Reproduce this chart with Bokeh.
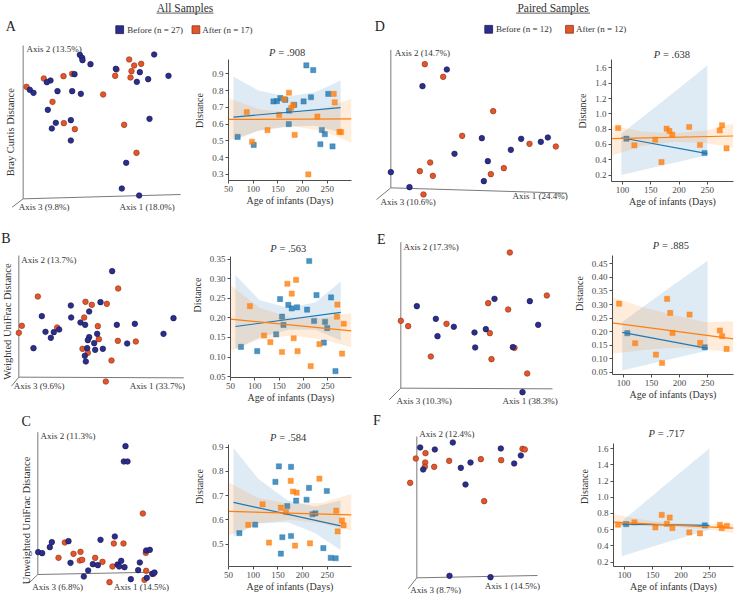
import math
from bokeh.plotting import figure
from bokeh.models import Range1d, Label, FixedTicker, NumeralTickFormatter
from bokeh.layouts import column, row
from bokeh.embed import file_html
from bokeh.resources import INLINE

# ======================= DATA =======================
section_titles = ["All Samples", "Paired Samples"]
legend_all = ["Before (n = 27)", "After (n = 17)"]
legend_paired = ["Before (n = 12)", "After (n = 12)"]
panel_letters = ["A", "B", "C", "D", "E", "F"]
pcoa_ylabels = ["Bray Curtis Distance", "Weighted UniFrac Distance", "Unweighted UniFrac Distance"]
axis_texts_A = ["Axis 2 (13.5%)", "Axis 3 (9.8%)", "Axis 1 (18.0%)"]
axis_texts_B = ["Axis 2 (13.7%)", "Axis 3 (9.6%)", "Axis 1 (33.7%)"]
axis_texts_C = ["Axis 2 (11.3%)", "Axis 3 (6.8%)", "Axis 1 (14.5%)"]
axis_texts_D = ["Axis 2 (14.7%)", "Axis 3 (10.6%)", "Axis 1 (24.4%)"]
axis_texts_E = ["Axis 2 (17.3%)", "Axis 3 (10.3%)", "Axis 1 (38.3%)"]
axis_texts_F = ["Axis 2 (12.4%)", "Axis 3 (8.7%)", "Axis 1 (14.5%)"]
p_values = [".908", ".563", ".584", ".638", ".885", ".717"]

# PCoA projected scores (arbitrary ordination units; axis 2 grows downward in these units)
A_before_x = [238,245,246,270,461,346,418,504,443,409,222,150,139,88,99,171,215,241,142,166,154,211,211,447,377,364,416]
A_before_y = [163,172,179,191,162,205,215,226,236,244,221,240,245,268,277,272,272,280,328,367,384,359,420,355,487,564,585]
A_after_x = [386,401,422,393,344,390,348,215,189,130,78,308,156,190,223,371,408]
A_after_y = [177,195,190,212,226,231,207,220,227,234,259,282,304,368,386,373,457]

B_before_x = [335,211,300,266,124,212,240,254,349,403,519,489,135,160,176,151,266,290,262,281,99,260,284,307,380,253,256]
B_before_y = [227,330,320,348,362,366,381,388,388,385,368,415,409,410,402,427,425,415,434,443,458,458,463,460,444,481,498]
B_after_x = [353,112,255,274,319,251,64,55,170,292,295,352,406,246,262,333,316]
B_after_y = [279,303,319,328,325,366,391,412,396,392,431,436,438,460,472,495,558]

C_before_x = [375,370,381,113,125,148,154,204,210,250,263,277,292,300,343,351,356,362,372,391,413,418,437,448,439,455,462]
C_before_y = [167,213,213,485,488,470,455,452,517,558,540,521,524,448,438,522,528,511,530,566,539,516,480,478,562,550,546]
C_after_x = [193,174,219,240,238,245,284,306,336,340,369,427,436,437,459,432,327]
C_after_y = [456,502,490,484,510,508,502,514,528,459,459,369,487,541,550,568,575]

D_before_x = [238,165,70,126,261,343,361,349,430,461,520,541]
D_before_y = [207,257,515,560,460,413,482,542,448,415,424,411]
D_after_x = [172,227,377,284,188,157,196,370,409,486,565,168]
D_after_y = [191,229,332,406,486,512,526,521,503,430,438,582]

E_before_x = [148,205,210,259,321,323,355,381,436,487,512,465]
E_before_y = [332,370,422,394,411,456,401,310,455,317,388,590]
E_after_x = [427,538,362,422,100,122,237,367,441,372,190,479]
E_after_y = [171,300,323,342,376,392,385,413,457,491,483,534]

F_before_x = [158,202,256,167,280,294,309,400,440,460,246,369]
F_before_y = [171,177,156,237,232,282,216,174,219,195,556,560]
F_after_x = [145,174,173,172,200,245,340,401,465,472,128,350]
F_after_y = [204,188,216,229,229,211,206,209,175,177,277,332]

# Distance vs age (days)
A_age_before = [207.6,221.5,252,217,202,141,148,155,165,172.5,183,172,239,245,236,260.6,101,68.5]
A_dist_before = [0.95,0.922,0.78,0.76,0.735,0.735,0.737,0.755,0.745,0.68,0.715,0.60,0.565,0.54,0.48,0.467,0.476,0.524]
A_age_after = [211.6,172.5,162.6,177,181,152.6,230,263,265,274.5,277.8,184,129,97.7,87]
A_dist_after = [0.30,0.787,0.749,0.697,0.713,0.655,0.645,0.78,0.73,0.554,0.552,0.536,0.564,0.495,0.671]

B_age_before = [212,227,257,152,169,176,187,207.6,156,159,222,244.6,249,144,242,71.5,105,266]
B_dist_before = [0.345,0.258,0.252,0.248,0.233,0.224,0.227,0.221,0.203,0.182,0.192,0.19,0.174,0.158,0.137,0.126,0.115,0.064]
B_age_after = [167,185,176,90,270,269,283,119,132,180,233,156,188,215,279.6]
B_dist_after = [0.287,0.297,0.262,0.23,0.234,0.203,0.185,0.155,0.138,0.148,0.133,0.113,0.115,0.077,0.109]

C_age_before = [152,176.6,145,213,249,187,208,169,220,226,72,104,159,176.6,242,156,257,267]
C_dist_before = [0.821,0.819,0.757,0.732,0.719,0.679,0.683,0.657,0.623,0.627,0.545,0.58,0.528,0.533,0.483,0.46,0.443,0.441]
C_age_after = [176,234,180.6,188,119,156,166.5,268,279.6,283,271,90,132,184.7,215]
C_dist_after = [0.761,0.77,0.717,0.712,0.664,0.65,0.632,0.638,0.597,0.577,0.552,0.579,0.506,0.493,0.503]

D_age_before = [107,245]
D_dist_before = [0.675,0.488]
D_age_after = [92.4,121,158,169,178,183,188,218,237,272,276,284]
D_dist_after = [0.815,0.588,0.662,0.37,0.806,0.776,0.728,0.828,0.593,0.784,0.85,0.549]

E_age_before = [107,245]
E_dist_before = [0.194,0.142]
E_age_after = [92.4,121,158,169,178,183.5,187.6,218,237,272,276,284]
E_dist_after = [0.303,0.157,0.115,0.084,0.321,0.269,0.195,0.263,0.158,0.204,0.183,0.136]

F_age_before = [103,242]
F_dist_before = [0.669,0.653]
F_age_after = [88.8,117.6,154.7,165.9,175,180,184.7,214.7,233.5,268.8,272,281]
F_dist_after = [0.661,0.69,0.628,0.783,0.673,0.75,0.62,0.567,0.555,0.661,0.62,0.649]

# fitted lines (x ends, y ends) and confidence bands (x, lower, upper)
A_fit_before = ([60, 277], [0.642, 0.698]); A_fit_after = ([50, 299], [0.628, 0.631])
A_band_before = ([60,110,170,225,277], [0.503,0.56,0.585,0.59,0.552], [0.884,0.80,0.765,0.79,0.86])
A_band_after = ([50,110,175,240,299], [0.503,0.56,0.59,0.56,0.489], [0.755,0.69,0.665,0.69,0.751])

B_fit_before = ([60, 277], [0.178, 0.214]); B_fit_after = ([50, 299], [0.197, 0.167])
B_band_before = ([60,110,170,225,277], [0.12,0.15,0.17,0.17,0.142], [0.309,0.245,0.225,0.24,0.293])
B_band_after = ([50,110,175,240,299], [0.116,0.145,0.155,0.145,0.125], [0.284,0.225,0.2,0.2,0.212])

C_fit_before = ([60, 277], [0.672, 0.575]); C_fit_after = ([50, 299], [0.635, 0.62])
C_band_before = ([60,110,170,225,277], [0.53,0.585,0.59,0.545,0.475], [0.897,0.77,0.68,0.655,0.68])
C_band_after = ([50,110,175,240,299], [0.535,0.585,0.6,0.585,0.555], [0.755,0.69,0.665,0.67,0.707])

D_fit_before = ([98, 250], [0.687, 0.481]); D_fit_after = ([80, 296], [0.675, 0.71])
D_band_before = ([98,174,250], [0.2,0.33,0.46], [0.74,1.18,1.63])
D_band_after = ([80,135,190,245,296], [0.452,0.58,0.635,0.62,0.56], [0.845,0.77,0.745,0.78,0.87])

E_fit_before = ([98, 250], [0.197, 0.138]); E_fit_after = ([80, 296], [0.232, 0.173])
E_band_before = ([98,174,250], [0.056,0.093,0.13], [0.235,0.35,0.462])
E_band_after = ([80,135,190,245,296], [0.118,0.132,0.14,0.135,0.124], [0.327,0.29,0.26,0.235,0.237])

F_fit_before = ([95, 250], [0.668, 0.654]); F_fit_after = ([80, 293], [0.694, 0.62])
F_band_before = ([95,172,250], [0.273,0.44,0.60], [0.70,1.15,1.6])
F_band_after = ([80,135,190,245,293], [0.64,0.645,0.635,0.605,0.559], [0.795,0.72,0.68,0.665,0.673])

# tick values
x_ticks_all = [50, 100, 150, 200, 250]
x_ticks_paired = [100, 150, 200, 250]
y_ticks_A = [0.3, 0.4, 0.5, 0.6, 0.7, 0.8, 0.9]
y_ticks_B = [0.05, 0.10, 0.15, 0.20, 0.25, 0.30, 0.35]
y_ticks_C = [0.5, 0.6, 0.7, 0.8, 0.9]
y_ticks_D = [0.2, 0.4, 0.6, 0.8, 1.0, 1.2, 1.4, 1.6]
y_ticks_E = [0.05, 0.10, 0.15, 0.20, 0.25, 0.30, 0.35, 0.40, 0.45]
y_ticks_F = [0.2, 0.4, 0.6, 0.8, 1.0, 1.2, 1.4, 1.6]

# ======================= STYLE / LAYOUT =======================
COLS = [0, 188, 367, 570, 734]
ROWS = [0, 40, 212, 406, 594]
FONT = "'Liberation Serif'"
TXT = "#333333"
TICK_TXT = "#4a4a4a"
AXIS_GREY = "#7a7a7a"
BLUE_PT, BLUE_EDGE = "#2c2e8c", "#181850"
ORANGE_PT, ORANGE_EDGE = "#e5552b", "#8a3214"
REG_BLUE, REG_ORANGE = "#1f77b4", "#ff7f0e"


def fs(v):
    return f"{v:.1f}px"


def base_fig(w, h, xr, yr, **kw):
    p = figure(width=w, height=h, x_range=xr, y_range=yr, output_backend="svg",
               toolbar_location=None, tools="", **kw)
    p.frame_align = False
    p.outline_line_color = None
    p.background_fill_color = "white"
    p.border_fill_color = "white"
    p.xgrid.grid_line_color = None
    p.ygrid.grid_line_color = None
    return p


def lab(p, x, y, text, size, align="left", baseline="middle", angle=0.0, style="normal", color=TXT):
    p.add_layout(Label(x=x, y=y, text=text, text_font=FONT, text_font_size=fs(size),
                       text_align=align, text_baseline=baseline, angle=angle,
                       text_font_style=style, text_color=color))


def pcoa(ci, ri, off, bx, by, ax, ay, geom, axis_texts, letter=None, letter_pos=None,
         ylabel=None, ylabel_pos=None):
    offx, offy = off
    w = COLS[ci + 1] - COLS[ci]
    h = ROWS[ri + 1] - ROWS[ri]
    xr = Range1d((COLS[ci] - offx) * 3, (COLS[ci + 1] - offx) * 3)
    yr = Range1d((ROWS[ri + 1] - offy) * 3, (ROWS[ri] - offy) * 3)
    p = base_fig(w, h, xr, yr, x_axis_location=None, y_axis_location=None, min_border=0)
    (ox, oy), top, (rx, ry), (dx, dy) = geom["origin"], geom["top"], geom["right"], geom["diag"]
    p.segment(x0=[ox, ox, ox], y0=[oy, oy, oy], x1=[ox, rx, dx], y1=[top, ry, dy],
              line_color=AXIS_GREY, line_width=1)
    for t, (tx, ty) in zip(axis_texts, geom["labels"]):
        lab(p, tx, ty, t, 9)
    p.scatter(x=ax, y=ay, marker="circle", size=5.6, fill_color=ORANGE_PT,
              line_color=ORANGE_EDGE, line_width=0.6)
    p.scatter(x=bx, y=by, marker="circle", size=5.6, fill_color=BLUE_PT,
              line_color=BLUE_EDGE, line_width=0.6)
    if letter:
        lab(p, letter_pos[0], letter_pos[1], letter, 14, align="center", color="#222222")
    if ylabel:
        lab(p, ylabel_pos[0], ylabel_pos[1], ylabel, 10.5, align="center", angle=math.pi / 2)
    return p


def reg(ci, ri, frame, xr, yr, xt, yt, yfmt, pval, tpos, xb, yb, xa, ya,
        band_b, band_a, fit_b, fit_a):
    l, t, r, b = frame
    w = COLS[ci + 1] - COLS[ci]
    h = ROWS[ri + 1] - ROWS[ri]
    mbl = round(l - COLS[ci])
    fw = round(r - l)
    mbr = max(0, w - mbl - fw)
    fh = round(b - ROWS[ri])          # frame reaches the top of the cell (room for the P title)
    mbb = max(0, h - fh)
    y0, y1 = yr
    y_top = y1 + (t - ROWS[ri]) * (y1 - y0) / (b - t)
    p = base_fig(w, h, Range1d(*xr), Range1d(y0, y_top), min_border_left=mbl, min_border_right=mbr,
                 min_border_top=0, min_border_bottom=mbb)
    for axis in (p.xaxis[0], p.yaxis[0]):
        axis.axis_line_color = "#4d4d4d"
        axis.axis_line_width = 1
        axis.major_tick_line_color = "#4d4d4d"
        axis.major_tick_in = 0
        axis.major_tick_out = 3
        axis.minor_tick_line_color = None
        axis.major_label_text_font = FONT
        axis.major_label_text_font_size = fs(9)
        axis.major_label_text_color = TICK_TXT
        axis.axis_label_text_font = FONT
        axis.axis_label_text_font_size = fs(10)
        axis.axis_label_text_font_style = "normal"
        axis.axis_label_text_color = TXT
    p.yaxis.bounds = (y0, y1)
    p.xaxis.ticker = FixedTicker(ticks=xt)
    p.yaxis.ticker = FixedTicker(ticks=yt)
    p.yaxis.formatter = NumeralTickFormatter(format=yfmt)
    p.xaxis.axis_label = "Age of infants (Days)"
    p.yaxis.axis_label = "Distance"
    p.xaxis.major_label_standoff = 2
    p.xaxis.axis_label_standoff = 0
    p.yaxis.major_label_standoff = 2
    p.yaxis.axis_label_standoff = 4

    p.scatter(x=xb, y=yb, marker="square", size=5.2, fill_color=REG_BLUE, fill_alpha=0.8,
              line_color=REG_BLUE, line_alpha=0.8, line_width=0.5)
    p.varea(x=band_b[0], y1=band_b[1], y2=band_b[2], fill_color=REG_BLUE, fill_alpha=0.15)
    p.scatter(x=xa, y=ya, marker="square", size=5.2, fill_color=REG_ORANGE, fill_alpha=0.8,
              line_color=REG_ORANGE, line_alpha=0.8, line_width=0.5)
    p.varea(x=band_a[0], y1=band_a[1], y2=band_a[2], fill_color=REG_ORANGE, fill_alpha=0.15)
    p.line(x=fit_b[0], y=fit_b[1], line_color=REG_BLUE, line_width=1.2)
    p.line(x=fit_a[0], y=fit_a[1], line_color=REG_ORANGE, line_width=1.2)

    def dx(rx):
        return xr[0] + (rx - l) / (r - l) * (xr[1] - xr[0])

    def dy(ry):
        return y0 + (b - ry) / (b - t) * (y1 - y0)

    cx, cy = tpos
    lab(p, dx(cx - 11.6), dy(cy), "P", 10.5, align="right", style="italic")
    lab(p, dx(cx - 8.8), dy(cy), "= " + pval, 10.5)
    return p


# ----------------------- header -----------------------
header = base_fig(COLS[4] - COLS[0], ROWS[1] - ROWS[0], Range1d(COLS[0], COLS[4]),
                  Range1d(ROWS[1], ROWS[0]), x_axis_location=None, y_axis_location=None, min_border=0)
lab(header, 184.5, 7.3, section_titles[0], 11.5, align="center")
lab(header, 552.5, 7.3, section_titles[1], 11.5, align="center")
header.segment(x0=[156, 515.5], y0=[12.6, 12.6], x1=[213, 589.5], y1=[12.6, 12.6],
               line_color=TXT, line_width=0.8)
lab(header, 10.2, 26.3, panel_letters[0], 14, align="center", color="#222222")
lab(header, 379.3, 25.5, panel_letters[3], 14, align="center", color="#222222")
header.scatter(x=[119.2, 488.2], y=[29.2, 28.8], marker="square", size=7.8,
               fill_color=BLUE_PT, line_color=BLUE_EDGE, line_width=0.8)
header.scatter(x=[195.4, 569.0], y=[29.2, 28.8], marker="square", size=7.8,
               fill_color=ORANGE_PT, line_color=ORANGE_EDGE, line_width=0.8)
lab(header, 126.7, 29.2, legend_all[0], 9)
lab(header, 201.7, 29.2, legend_all[1], 9)
lab(header, 495.5, 28.8, legend_paired[0], 9)
lab(header, 575.5, 28.8, legend_paired[1], 9)

# ----------------------- PCoA panels -----------------------
geom_A = dict(origin=(68, 595), top=135, right=(540, 582), diag=(35, 620),
              labels=[(78, 145), (55, 620), (357, 620)])
geom_B = dict(origin=(55, 545), top=180, right=(550, 547), diag=(33, 572),
              labels=[(62, 192), (40, 572), (388, 572)])
geom_C = dict(origin=(112, 552), top=125, right=(468, 545), diag=(85, 578),
              labels=[(120, 135), (95, 590), (340, 590)])
geom_D = dict(origin=(70, 562), top=148, right=(598, 578), diag=(27, 597),
              labels=[(82, 158), (39, 605), (435, 585)])
geom_E = dict(origin=(100, 578), top=140, right=(555, 580), diag=(65, 613),
              labels=[(108, 155), (87, 615), (405, 615)])
geom_F = dict(origin=(148, 562), top=138, right=(510, 555), diag=(122, 595),
              labels=[(155, 130), (128, 598), (352, 585)])

pA = pcoa(0, 1, (0, 0), A_before_x, A_before_y, A_after_x, A_after_y, geom_A, axis_texts_A,
          ylabel=pcoa_ylabels[0], ylabel_pos=(30, 395))
pB = pcoa(0, 2, (0, 195), B_before_x, B_before_y, B_after_x, B_after_y, geom_B, axis_texts_B,
          letter=panel_letters[1], letter_pos=(16, 130), ylabel=pcoa_ylabels[1], ylabel_pos=(20, 378))
pC = pcoa(0, 3, (0, 390), C_before_x, C_before_y, C_after_x, C_after_y, geom_C, axis_texts_C,
          letter=panel_letters[2], letter_pos=(77, 94), ylabel=pcoa_ylabels[2], ylabel_pos=(78, 390))
pD = pcoa(2, 1, (367, 0), D_before_x, D_before_y, D_after_x, D_after_y, geom_D, axis_texts_D)
pE = pcoa(2, 2, (367, 195), E_before_x, E_before_y, E_after_x, E_after_y, geom_E, axis_texts_E,
          letter=panel_letters[4], letter_pos=(41, 131))
pF = pcoa(2, 3, (367, 390), F_before_x, F_before_y, F_after_x, F_after_y, geom_F, axis_texts_F,
          letter=panel_letters[5], letter_pos=(28, 91))

# ----------------------- regression panels -----------------------
rA = reg(1, 1, (228.3, 59, 351.7, 180), (50, 299), (0.264, 0.985), x_ticks_all, y_ticks_A, "0.0",
         p_values[0], (287, 52.3), A_age_before, A_dist_before, A_age_after, A_dist_after,
         A_band_before, A_band_after, A_fit_before, A_fit_after)
rB = reg(1, 2, (228.3, 255.7, 351.7, 376.7), (50, 299), (0.048, 0.357), x_ticks_all, y_ticks_B, "0.00",
         p_values[1], (287, 247.7), B_age_before, B_dist_before, B_age_after, B_dist_after,
         B_band_before, B_band_after, B_fit_before, B_fit_after)
rC = reg(1, 3, (228.3, 444, 351.7, 565.7), (50, 299), (0.407, 0.911), x_ticks_all, y_ticks_C, "0.0",
         p_values[2], (288, 436.7), C_age_before, C_dist_before, C_age_after, C_dist_after,
         C_band_before, C_band_after, C_fit_before, C_fit_after)
rD = reg(3, 1, (610.7, 59, 733, 180.7), (80.6, 296.3), (0.116, 1.709), x_ticks_paired, y_ticks_D, "0.0",
         p_values[3], (671.2, 54), D_age_before, D_dist_before, D_age_after, D_dist_after,
         D_band_before, D_band_after, D_fit_before, D_fit_after)
rE = reg(3, 2, (610.7, 255, 733, 374), (80.6, 296.3), (0.0415, 0.481), x_ticks_paired, y_ticks_E, "0.00",
         p_values[4], (669.5, 245), E_age_before, E_dist_before, E_age_after, E_dist_after,
         E_band_before, E_band_after, E_fit_before, E_fit_after)
rF = reg(3, 3, (612.7, 443, 733, 567), (80.6, 292.8), (0.147, 1.665), x_ticks_paired, y_ticks_F, "0.0",
         p_values[5], (665.8, 433.3), F_age_before, F_dist_before, F_age_after, F_dist_after,
         F_band_before, F_band_after, F_fit_before, F_fit_after)

layout = column(header,
                row(pA, rA, pD, rD),
                row(pB, rB, pE, rE),
                row(pC, rC, pF, rF))

open("out.html", "w").write(file_html(layout, INLINE))
